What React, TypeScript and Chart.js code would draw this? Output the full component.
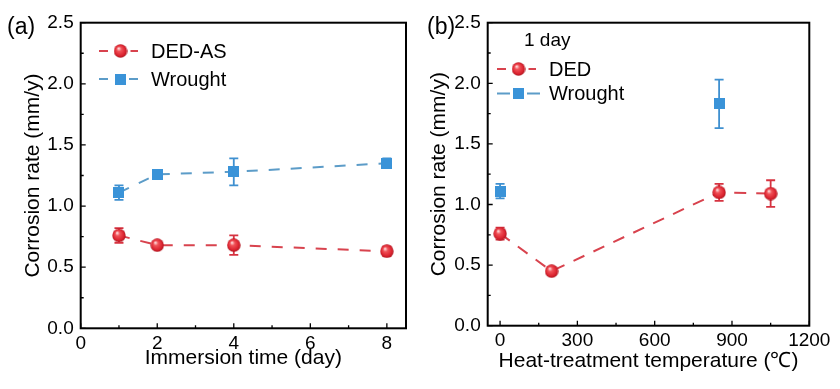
import React, { useEffect, useRef } from "react";
import { Chart, registerables } from "chart.js";

Chart.register(...registerables);

// ---------- data ----------
// panel (a): corrosion rate vs immersion time
const immersionDays = [1, 2, 4, 8];
const dedAsRate = [0.76, 0.68, 0.68, 0.63];
const dedAsErr = [0.06, 0.02, 0.08, 0.04];
const wroughtRateA = [1.11, 1.26, 1.28, 1.35];
const wroughtErrA = [0.06, 0.02, 0.11, 0.04];

// panel (b): corrosion rate vs heat-treatment temperature (1 day)
const dedTemps = [0, 200, 850, 1050];
const dedRate = [0.76, 0.45, 1.1, 1.09];
const dedErr = [0.05, 0.03, 0.07, 0.11];
const wroughtTemps = [0, 850];
const wroughtRateB = [1.11, 1.83];
const wroughtErrB = [0.06, 0.2];

// ticks
const yMajor = [0, 0.5, 1.0, 1.5, 2.0, 2.5];
const yMinor = [0.25, 0.75, 1.25, 1.75, 2.25];
const xMajorA = [0, 2, 4, 6, 8];
const xMinorA = [1, 3, 5, 7];
const xMajorB = [0, 300, 600, 900, 1200];
const xMinorB = [150, 450, 750, 1050];

const RED_LINE = "#d8434e";
const RED_ERR = "#d63340";
const BLUE_LINE = "#5c9cc8";
const BLUE_ERR = "#3f90d0";
const BLUE_FILL = "#3a93d8";
const FONT = "'Liberation Sans', Arial, sans-serif";

function makeSphere(d: number): HTMLCanvasElement {
  const c = document.createElement("canvas");
  c.width = d;
  c.height = d;
  const g = c.getContext("2d")!;
  const r = d / 2;
  const grad = g.createRadialGradient(r * 0.72, r * 0.62, r * 0.05, r, r, r);
  grad.addColorStop(0, "#ffe0e0");
  grad.addColorStop(0.3, "#f05258");
  grad.addColorStop(0.75, "#dc2430");
  grad.addColorStop(1, "#a8141e");
  g.fillStyle = grad;
  g.beginPath();
  g.arc(r, r, r - 0.3, 0, Math.PI * 2);
  g.fill();
  return c;
}

function makeSquare(s: number): HTMLCanvasElement {
  const c = document.createElement("canvas");
  c.width = s;
  c.height = s;
  const g = c.getContext("2d")!;
  g.fillStyle = BLUE_FILL;
  g.fillRect(0, 0, s, s);
  return c;
}

type LegendItem = { label: string; color: string; dash: number[]; marker: HTMLCanvasElement };

type PanelCfg = {
  panelLabel: string;
  xMin: number;
  xMax: number;
  xMajor: number[];
  xMinor: number[];
  xTitle: string;
  yWidth: number;
  xHeight: number;
  padRight: number;
  padTop: number;
  yTitlePad: number;
  xTitlePad: number;
  datasets: any[];
  errors: { color: string; err: number[] }[];
  legend: LegendItem[];
  legendX: number; // line start
  legendY: number; // first row center
  legendRowGap: number;
  extraText?: { text: string; x: number; y: number };
};

function makeChart(canvas: HTMLCanvasElement, cfg: PanelCfg) {
  const boxPlugin = {
    id: "boxAndTicks",
    afterDatasetsDraw(chart: any) {
      const { ctx, chartArea: a } = chart;
      const xs = chart.scales.x;
      const ys = chart.scales.y;
      ctx.save();
      ctx.strokeStyle = "#000";
      ctx.lineWidth = 1.3;
      const major = 5;
      const minor = 3;
      ctx.beginPath();
      cfg.xMajor.forEach((v) => {
        const p = xs.getPixelForValue(v);
        ctx.moveTo(p, a.bottom);
        ctx.lineTo(p, a.bottom - major);
      });
      cfg.xMinor.forEach((v) => {
        const p = xs.getPixelForValue(v);
        ctx.moveTo(p, a.bottom);
        ctx.lineTo(p, a.bottom - minor);
      });
      yMajor.forEach((v) => {
        const p = ys.getPixelForValue(v);
        ctx.moveTo(a.left, p);
        ctx.lineTo(a.left + major, p);
      });
      yMinor.forEach((v) => {
        const p = ys.getPixelForValue(v);
        ctx.moveTo(a.left, p);
        ctx.lineTo(a.left + minor, p);
      });
      ctx.stroke();
      ctx.lineWidth = 2;
      ctx.strokeRect(a.left, a.top, a.right - a.left, a.bottom - a.top);
      ctx.restore();
    },
  };

  const errPlugin = {
    id: "errorBars",
    beforeDatasetsDraw(chart: any) {
      const { ctx } = chart;
      const ys = chart.scales.y;
      ctx.save();
      ctx.lineWidth = 1.8;
      cfg.errors.forEach((e, di) => {
        const meta = chart.getDatasetMeta(di);
        const ds = chart.data.datasets[di];
        ctx.strokeStyle = e.color;
        meta.data.forEach((pt: any, i: number) => {
          const v = ds.data[i].y;
          const top = ys.getPixelForValue(v + e.err[i]);
          const bot = ys.getPixelForValue(v - e.err[i]);
          const x = pt.x;
          ctx.beginPath();
          ctx.moveTo(x, top);
          ctx.lineTo(x, bot);
          ctx.moveTo(x - 4.5, top);
          ctx.lineTo(x + 4.5, top);
          ctx.moveTo(x - 4.5, bot);
          ctx.lineTo(x + 4.5, bot);
          ctx.stroke();
        });
      });
      ctx.restore();
    },
  };

  const legendPlugin = {
    id: "customLegend",
    afterDraw(chart: any) {
      const { ctx } = chart;
      ctx.save();
      ctx.fillStyle = "#000";
      ctx.font = `23px ${FONT}`;
      ctx.textAlign = "left";
      ctx.textBaseline = "alphabetic";
      ctx.fillText(cfg.panelLabel, 7, 33.5);
      if (cfg.extraText) {
        ctx.font = `19px ${FONT}`;
        ctx.textBaseline = "middle";
        ctx.fillText(cfg.extraText.text, cfg.extraText.x, cfg.extraText.y);
      }
      cfg.legend.forEach((item, i) => {
        const y = cfg.legendY + i * cfg.legendRowGap;
        const x0 = cfg.legendX;
        const x1 = x0 + 43;
        const xm = (x0 + x1) / 2;
        ctx.strokeStyle = item.color;
        ctx.lineWidth = 2;
        ctx.setLineDash(item.dash);
        ctx.beginPath();
        ctx.moveTo(x0, y);
        ctx.lineTo(x1, y);
        ctx.stroke();
        ctx.setLineDash([]);
        const m = item.marker;
        ctx.fillStyle = "#fff";
        ctx.fillRect(xm - m.width / 2 - 3, y - m.height / 2, m.width + 6, m.height);
        ctx.drawImage(m, xm - m.width / 2, y - m.height / 2);
        ctx.fillStyle = "#000";
        ctx.font = `20px ${FONT}`;
        ctx.textBaseline = "middle";
        ctx.textAlign = "left";
        ctx.fillText(item.label, x1 + 9, y + 1);
      });
      ctx.restore();
    },
  };

  return new Chart(canvas, {
    type: "line",
    data: { datasets: cfg.datasets },
    options: {
      animation: false,
      responsive: false,
      devicePixelRatio: 1,
      events: [],
      layout: { padding: { top: cfg.padTop, right: cfg.padRight, left: 0, bottom: 0 } },
      plugins: { legend: { display: false }, tooltip: { enabled: false } },
      scales: {
        x: {
          type: "linear",
          min: cfg.xMin,
          max: cfg.xMax,
          afterBuildTicks: (s: any) => {
            s.ticks = cfg.xMajor.map((v) => ({ value: v }));
          },
          afterFit: (s: any) => {
            s.height = cfg.xHeight;
          },
          grid: { display: false, drawTicks: false },
          border: { display: false },
          ticks: {
            color: "#000",
            font: { family: FONT, size: 19 },
            padding: 4,
            maxRotation: 0,
            autoSkip: false,
            callback: (v: any) => String(v),
          },
          title: {
            display: true,
            text: cfg.xTitle,
            color: "#000",
            font: { family: FONT, size: 21 },
            padding: { top: 0, bottom: cfg.xTitlePad },
          },
        },
        y: {
          type: "linear",
          min: 0,
          max: 2.5,
          afterBuildTicks: (s: any) => {
            s.ticks = yMajor.map((v) => ({ value: v }));
          },
          afterFit: (s: any) => {
            s.width = cfg.yWidth;
          },
          grid: { display: false, drawTicks: false },
          border: { display: false },
          ticks: {
            color: "#000",
            font: { family: FONT, size: 19 },
            padding: 7,
            autoSkip: false,
            callback: (v: any) => Number(v).toFixed(1),
          },
          title: {
            display: true,
            text: "Corrosion rate (mm/y)",
            color: "#000",
            font: { family: FONT, size: 21 },
            padding: { top: cfg.yTitlePad, bottom: 0 },
          },
        },
      },
    },
    plugins: [errPlugin, boxPlugin, legendPlugin],
  } as any);
}

function Panel({ build }: { build: () => PanelCfg }) {
  const ref = useRef<HTMLCanvasElement>(null);
  useEffect(() => {
    if (!ref.current) return;
    const chart = makeChart(ref.current, build());
    return () => chart.destroy();
  }, []);
  return <canvas ref={ref} width={420} height={389} style={{ display: "block", width: 420, height: 389 }} />;
}

function pts(xs: number[], ys: number[]) {
  return xs.map((x, i) => ({ x, y: ys[i] }));
}

export default function App() {
  const buildA = (): PanelCfg => {
    const sphere = makeSphere(14);
    const square = makeSquare(11);
    return {
      panelLabel: "(a)",
      xMin: 0,
      xMax: 8.5,
      xMajor: xMajorA,
      xMinor: xMinorA,
      xTitle: "Immersion time (day)",
      yWidth: 80.7,
      xHeight: 389 - 328.3,
      padRight: 14,
      padTop: 22.7,
      yTitlePad: 21,
      xTitlePad: 18,
      datasets: [
        {
          label: "DED-AS",
          data: pts(immersionDays, dedAsRate),
          borderColor: RED_LINE,
          borderWidth: 2,
          borderDash: [11, 11],
          pointStyle: sphere,
          pointRadius: 7,
          showLine: true,
        },
        {
          label: "Wrought",
          data: pts(immersionDays, wroughtRateA),
          borderColor: BLUE_LINE,
          borderWidth: 2,
          borderDash: [11, 11],
          pointStyle: square,
          pointRadius: 6,
          showLine: true,
        },
      ],
      errors: [
        { color: RED_ERR, err: dedAsErr },
        { color: BLUE_ERR, err: wroughtErrA },
      ],
      legend: [
        { label: "DED-AS", color: RED_LINE, dash: [9, 6], marker: sphere },
        { label: "Wrought", color: BLUE_LINE, dash: [9, 6], marker: square },
      ],
      legendX: 99,
      legendY: 51,
      legendRowGap: 28,
    };
  };

  const buildB = (): PanelCfg => {
    const sphere = makeSphere(14);
    const square = makeSquare(11);
    return {
      panelLabel: "(b)",
      xMin: -48,
      xMax: 1200,
      xMajor: xMajorB,
      xMinor: xMinorB,
      xTitle: "Heat-treatment temperature (\u2103)",
      yWidth: 67.7,
      xHeight: 389 - 325.7,
      padRight: 420 - 389.3,
      padTop: 22.7,
      yTitlePad: 6.3,
      xTitlePad: 15,
      datasets: [
        {
          label: "DED",
          data: pts(dedTemps, dedRate),
          borderColor: RED_LINE,
          borderWidth: 2,
          borderDash: [12, 10],
          pointStyle: sphere,
          pointRadius: 7,
          showLine: true,
        },
        {
          label: "Wrought",
          data: pts(wroughtTemps, wroughtRateB),
          borderColor: BLUE_LINE,
          borderWidth: 2,
          pointStyle: square,
          pointRadius: 6,
          showLine: false,
        },
      ],
      errors: [
        { color: RED_ERR, err: dedErr },
        { color: BLUE_ERR, err: wroughtErrB },
      ],
      legend: [
        { label: "DED", color: RED_LINE, dash: [9, 6], marker: sphere },
        { label: "Wrought", color: BLUE_LINE, dash: [], marker: square },
      ],
      legendX: 77,
      legendY: 69,
      legendRowGap: 24.5,
      extraText: { text: "1 day", x: 104, y: 41 },
    };
  };

  return (
    <div style={{ position: "absolute", left: 0, top: 0, width: 840, height: 389, display: "flex", background: "#fff" }}>
      <Panel build={buildA} />
      <Panel build={buildB} />
    </div>
  );
}
